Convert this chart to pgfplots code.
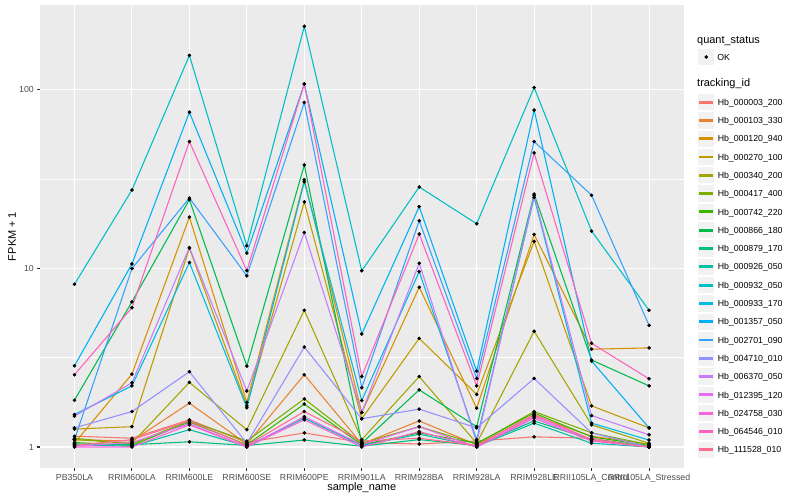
\documentclass[border=0pt]{standalone}
\usepackage{pgfplots}
\pgfplotsset{compat=1.18}
\usepackage{pgfplotstable}
\usepackage{fontspec}
\setmainfont{Liberation Sans}
\definecolor{bg}{HTML}{EBEBEB}
\definecolor{gray95}{HTML}{F2F2F2}
\definecolor{gray20}{HTML}{333333}
\definecolor{gray30}{HTML}{4D4D4D}
\definecolor{c1}{HTML}{F8766D}
\definecolor{c2}{HTML}{EA8331}
\definecolor{c3}{HTML}{D89000}
\definecolor{c4}{HTML}{C09B00}
\definecolor{c5}{HTML}{A3A500}
\definecolor{c6}{HTML}{7CAE00}
\definecolor{c7}{HTML}{39B600}
\definecolor{c8}{HTML}{00BB4E}
\definecolor{c9}{HTML}{00BF7D}
\definecolor{c10}{HTML}{00C1A3}
\definecolor{c11}{HTML}{00BFC4}
\definecolor{c12}{HTML}{00BAE0}
\definecolor{c13}{HTML}{00B0F6}
\definecolor{c14}{HTML}{35A2FF}
\definecolor{c15}{HTML}{9590FF}
\definecolor{c16}{HTML}{C77CFF}
\definecolor{c17}{HTML}{E76BF3}
\definecolor{c18}{HTML}{FA62DB}
\definecolor{c19}{HTML}{FF62BC}
\definecolor{c20}{HTML}{FF6C91}
\pgfplotstableread{
x c1 c2 c3 c4 c5 c6 c7 c8 c9 c10 c11 c12 c13 c14 c15 c16 c17 c18 c19 c20
0 1.15 1.10 1.05 1.26 1.10 1.12 1.06 1.83 1.04 1.03 8.15 1.52 2.85 1.10 1.28 1.49 1.01 1.00 2.54 1.02
1 1.12 1.08 2.56 1.30 1.05 1.04 1.02 6.50 1.03 1.01 27.5 2.20 10.6 9.99 1.58 2.29 1.06 1.00 6.03 1.10
2 1.42 1.76 19.4 13.0 2.30 1.40 1.38 24.3 1.07 1.25 156 10.8 75.0 24.8 2.64 13.1 1.35 1.33 51.4 1.40
3 1.06 1.04 1.78 1.70 1.25 1.08 1.03 2.84 1.02 1.01 13.4 1.66 12.2 9.10 1.05 2.06 1.00 1.00 9.72 1.02
4 1.20 2.54 31.4 23.6 5.83 1.86 1.74 38.0 1.094 1.45 227 30.6 108 85.0 3.63 15.9 1.48 1.42 108 1.58
5 1.06 1.04 1.56 1.44 1.10 1.05 1.03 1.05 1.01 1.02 9.70 1.82 4.29 2.15 1.44 1.56 1.03 1.00 2.48 1.08
6 1.04 1.40 7.85 4.06 2.48 1.30 1.20 2.09 1.10 1.18 28.6 9.60 22.2 18.5 1.63 10.7 1.30 1.22 15.6 1.12
7 1.08 1.03 1.65 1.97 1.05 1.04 1.05 1.30 1.02 1.01 17.8 1.10 2.66 2.42 1.28 1.06 1.00 1.00 2.20 1.02
8 1.14 1.50 15.5 14.2 4.45 1.58 1.55 26.1 1.40 1.36 103 25.0 77.1 51.4 2.42 25.6 1.48 1.45 44.4 1.52
9 1.12 1.15 3.53 1.70 1.33 1.20 1.14 3.07 1.10 1.05 16.2 1.36 3.03 25.7 1.20 1.50 1.10 1.08 3.81 1.10
10 1.00 1.04 3.59 1.28 1.05 1.03 1.02 2.20 1.01 1.00 5.83 1.094 1.28 4.80 1.00 1.17 1.00 1.00 2.41 1.00
}\datatable
\begin{document}
\begin{tikzpicture}[x=1bp,y=1bp]
\path[use as bounding box] (0,0) rectangle (800,500);
\begin{axis}[
  at={(40bp,32bp)}, anchor=south west,
  scale only axis, width=643.5bp, height=463bp,
  ymode=log, ymin=0.763, ymax=299,
  xmin=-0.6, xmax=10.6,
  xtick={0,...,10},
  xticklabels={PB350LA,RRIM600LA,RRIM600LE,RRIM600SE,RRIM600PE,RRIM901LA,RRIM928BA,RRIM928LA,RRIM928LE,RRII105LA\_Control,RRII105LA\_Stressed},
  ytick={1,10,100},
  yticklabels={\mbox{1},\mbox{10},\mbox{100}},
  minor ytick={3.1623,31.623},
  axis background/.style={fill=bg},
  axis line style={draw=none},
  grid=both,
  major grid style={white, line width=1.07bp},
  minor grid style={white, line width=0.53bp},
  tick pos=left,
  tick align=outside,
  major tick length=2.7bp, minor tick length=0bp,
  tick style={color=gray20, line width=1.07bp},
  ticklabel style={font=\fontsize{8.8}{10}\selectfont, color=gray30},
  xlabel={sample\_name}, ylabel={FPKM + 1},
  label style={font=\fontsize{11}{13}\selectfont, color=black},
  xlabel style={at={(axis description cs:0.5,-0.0486)}, anchor=base},
  ylabel style={at={(axis description cs:-0.0435,0.5)}, anchor=center},
  clip=true,
  legend style={at={(axis description cs:1.0210,0.810)}, anchor=north west,
    draw=none, fill=none, inner sep=0pt, outer sep=0pt, row sep=0pt,
    font=\fontsize{8.8}{10}\selectfont,
    nodes={inner sep=0pt, text depth=0pt}},
  legend cell align=left,
  legend image code/.code={
    \draw[white, line width=1bp, fill=gray95] (0bp,-8.65bp) rectangle (17.3bp,8.65bp);
    \fill[#1] (2bp,-0.9bp) rectangle (15.3bp,0.9bp);
    \path (19.7bp,0bp);
  },
]
\pgfplotsinvokeforeach{1,...,20}{
  \addplot[color=c#1, line width=1.07bp, mark=none] table[x=x, y=c#1] {\datatable};
}
\pgfplotsinvokeforeach{1,...,20}{
  \addplot[only marks, mark=*, mark size=1.6bp, mark options={fill=black, draw=none}, forget plot] table[x=x, y=c#1] {\datatable};
}
\legend{Hb\_000003\_200,Hb\_000103\_330,Hb\_000120\_940,Hb\_000270\_100,Hb\_000340\_200,Hb\_000417\_400,Hb\_000742\_220,Hb\_000866\_180,Hb\_000879\_170,Hb\_000926\_050,Hb\_000932\_050,Hb\_000933\_170,Hb\_001357\_050,Hb\_002701\_090,Hb\_004710\_010,Hb\_006370\_050,Hb\_012395\_120,Hb\_024758\_030,Hb\_064546\_010,Hb\_111528\_010}
\end{axis}
\begin{axis}[
  at={(697bp,443bp)}, anchor=south west,
  hide axis, scale only axis, width=1bp, height=1bp,
  xmin=0, xmax=1, ymin=0, ymax=1,
  legend style={at={(axis description cs:0,0)}, anchor=west,
    draw=none, fill=none, inner sep=0pt, outer sep=0pt,
    font=\fontsize{8.8}{10}\selectfont,
    nodes={inner sep=0pt, text depth=0pt}},
  legend cell align=left,
  legend image code/.code={
    \draw[white, line width=1bp, fill=gray95] (0bp,-8.65bp) rectangle (17.3bp,8.65bp);
    \draw[#1] plot coordinates {(8.65bp,0bp)};
    \path (19.7bp,0bp);
  },
]
\addlegendimage{only marks, mark=*, mark size=1.6bp, mark options={fill=black, draw=none}}
\addlegendentry{OK}
\end{axis}
\node[anchor=base west, font=\fontsize{11}{13}\selectfont, inner sep=0pt] at (697,456.5) {quant\_status};
\node[anchor=base west, font=\fontsize{11}{13}\selectfont, inner sep=0pt] at (697,413.5) {tracking\_id};
\end{tikzpicture}
\end{document}
